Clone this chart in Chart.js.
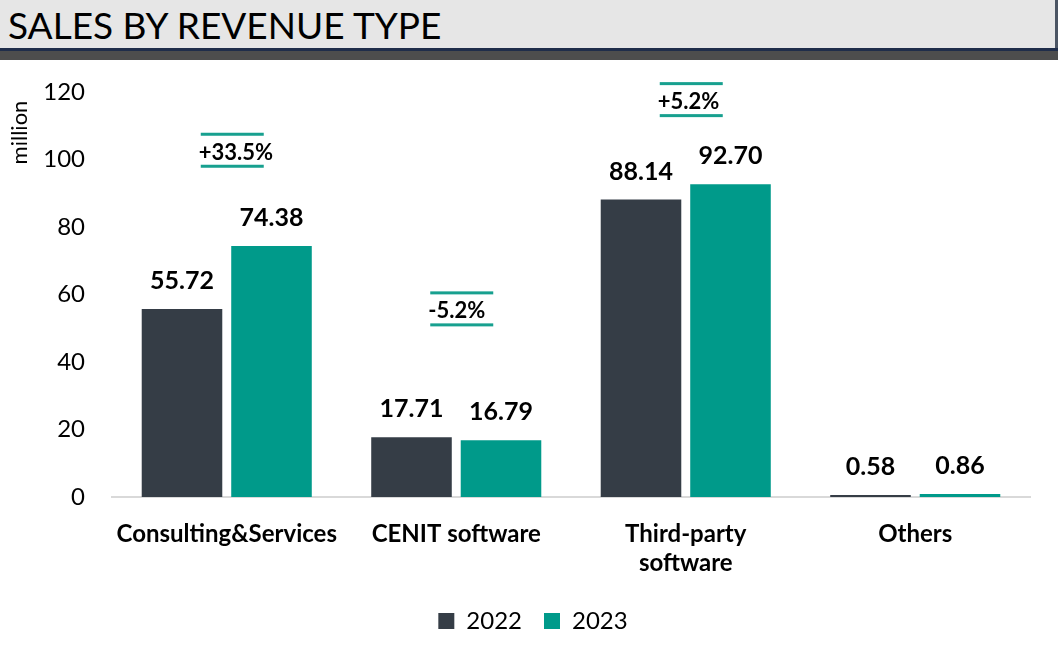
<!DOCTYPE html>
<html>
<head>
<meta charset="utf-8">
<script src="https://cdn.jsdelivr.net/npm/chart.js@4/dist/chart.umd.min.js"></script>
<style>
  html, body { margin: 0; padding: 0; background: #fff; }
  body { width: 1058px; height: 663px; overflow: hidden; font-family: Lato, sans-serif; }
  .title-bar {
    position: absolute; left: 0; top: 0; width: 1055px; height: 48px;
    background: #e6e6e6; border-right: 3px solid #4b5563;
  }
  .title-bar span {
    position: absolute; left: 8px; top: 5px; font-size: 37px; line-height: 40px; color: #000;
  }
  .rule-top { position: absolute; left: 0; top: 48px; width: 1058px; height: 3px; background: #1f2d4a; }
  .rule-bottom { position: absolute; left: 0; top: 51px; width: 1058px; height: 9px; background: #4d4d4d; }
  .chart-box { position: absolute; left: 0; top: 60px; width: 1058px; height: 603px; }
</style>
</head>
<body>
<div class="title-bar"><span>SALES BY REVENUE TYPE</span></div>
<div class="rule-top"></div>
<div class="rule-bottom"></div>
<div class="chart-box"><canvas id="salesChart" width="1058" height="603"></canvas></div>

<script>
const categories = ['Consulting&Services', 'CENIT software', ['Third-party', 'software'], 'Others'];
const sales2022 = [55.72, 17.71, 88.14, 0.58];
const sales2023 = [74.38, 16.79, 92.70, 0.86];
const showChange = [true, true, true, false];
const changeLevel = [102, 55, 117, null]; // value where the % badge sits
const yTicks = [0, 20, 40, 60, 80, 100, 120];

const darkColor = '#353d46';
const tealColor = '#009a8a';

// value labels above bars + change badges
const labelPlugin = {
    id: 'barLabels',
    afterDatasetsDraw(chart) {
        const ctx = chart.ctx;
        const yScale = chart.scales.y;
        ctx.save();
        ctx.fillStyle = '#000';
        ctx.textAlign = 'center';
        ctx.textBaseline = 'middle';
        ctx.font = 'bold 25px Lato';
        chart.data.datasets.forEach((ds, di) => {
            chart.getDatasetMeta(di).data.forEach((bar, i) => {
                ctx.fillText(ds.data[i].toFixed(2), bar.x, bar.y - 28);
            });
        });

        // % change badges
        const metaA = chart.getDatasetMeta(0).data;
        const metaB = chart.getDatasetMeta(1).data;
        ctx.font = 'bold 22px Lato';
        ctx.textAlign = 'left';
        categories.forEach((c, i) => {
            if (!showChange[i]) return;
            const pct = (sales2023[i] / sales2022[i] - 1) * 100;
            const txt = (pct >= 0 ? '+' : '') + pct.toFixed(1) + '%';
            const cx = (metaA[i].x + metaB[i].x) / 2;
            const cy = yScale.getPixelForValue(changeLevel[i]);
            ctx.fillStyle = '#000';
            ctx.fillText(txt, cx - 28, cy);
            ctx.fillStyle = '#17a08f';
            ctx.fillRect(cx - 26, cy - 20, 63, 3);
            ctx.fillRect(cx - 26, cy + 12, 63, 3);
        });

        // unit label
        ctx.fillStyle = '#000';
        ctx.textAlign = 'center';
        ctx.font = '22px Lato';
        ctx.translate(20, yScale.getPixelForValue(108));
        ctx.rotate(-Math.PI / 2);
        ctx.fillText('million', 0, 0);
        ctx.restore();
    }
};

new Chart(document.getElementById('salesChart'), {
    type: 'bar',
    data: {
        labels: categories,
        datasets: [
            {
                label: '2022',
                data: sales2022,
                backgroundColor: darkColor,
                barPercentage: 0.9,
                categoryPercentage: 0.78
            },
            {
                label: '2023',
                data: sales2023,
                backgroundColor: tealColor,
                barPercentage: 0.9,
                categoryPercentage: 0.78
            }
        ]
    },
    options: {
        responsive: false,
        animation: false,
        layout: { padding: { top: 32, right: 28, left: 36, bottom: 20 } },
        plugins: {
            legend: {
                position: 'bottom',
                labels: {
                    color: '#000',
                    font: { family: 'Lato', size: 24 },
                    boxWidth: 16,
                    boxHeight: 16,
                    padding: 22
                }
            },
            tooltip: { enabled: false }
        },
        scales: {
            x: {
                afterFit: (s) => { s.height = 90; },
                grid: { display: false, drawTicks: false },
                border: { display: true, color: '#d9d9d9', width: 2 },
                ticks: {
                    color: '#000',
                    font: { family: 'Lato', size: 24, weight: 'bold' },
                    padding: 23,
                    maxRotation: 0,
                    autoSkip: false
                }
            },
            y: {
                min: 0,
                max: 120,
                afterBuildTicks: (s) => { s.ticks = yTicks.map(v => ({ value: v })); },
                afterFit: (s) => { s.width = 76; s.paddingTop = 0; s.paddingBottom = 0; },
                grid: { display: false, drawTicks: false },
                border: { display: false },
                ticks: {
                    color: '#000',
                    font: { family: 'Lato', size: 24 },
                    padding: 27
                }
            }
        }
    },
    plugins: [labelPlugin]
});
</script>
</body>
</html>
